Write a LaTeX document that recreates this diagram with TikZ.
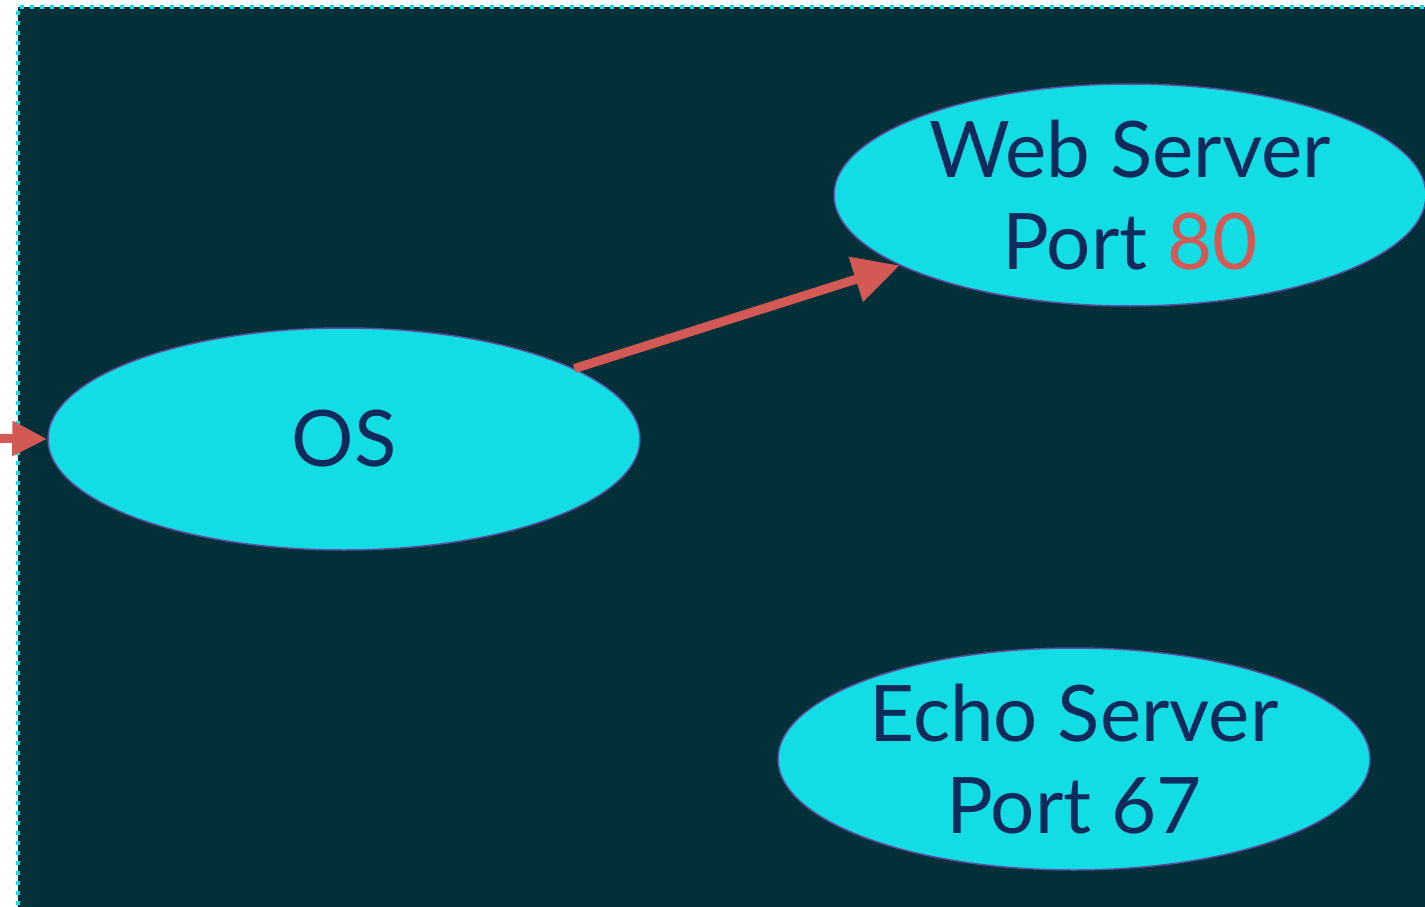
\documentclass[tikz,border=0pt]{standalone}
\usepackage{fontspec}
\setmainfont{Lato}
\usetikzlibrary{arrows.meta,shapes.geometric}
\definecolor{bgdark}{HTML}{013038}
\definecolor{ellfill}{HTML}{12DDE4}
\definecolor{ellline}{HTML}{5A4FA0}
\definecolor{txtnavy}{HTML}{112A5C}
\definecolor{arrred}{HTML}{D35A54}
\definecolor{dotcyan}{HTML}{12DDE4}
\begin{document}
\begin{tikzpicture}[x=1pt,y=-1pt,
  ellnode/.style={ellipse,draw=ellline,line width=1.5pt,fill=ellfill,
    minimum width=592pt,minimum height=222pt,inner sep=0pt,
    text=txtnavy,align=center,font=\fontsize{78}{92}\selectfont},
  redarrow/.style={draw=arrred,line width=9pt}]
\useasboundingbox (0,0) rectangle (1425,907);
\fill[white] (0,0) rectangle (1425,907);
\fill[bgdark] (17.5,7.5) rectangle (1440,920);
\draw[dotcyan,line width=4pt,dash pattern=on 4pt off 6pt] (17.5,915) -- (17.5,7.5) -- (1440,7.5);
\node[ellnode] (os) at (344,439) {OS};
\node[ellnode] (web) at (1130,195) {Web Server\\Port \textcolor{arrred}{80}};
\node[ellnode] (echo) at (1074,759) {Echo Server\\Port 67};
\coordinate (in) at (-20,438);
\draw[redarrow,-{Triangle[length=35pt,width=33pt]}] (in) -- (os.west);
\draw[redarrow,-{Triangle[length=46pt,width=45pt]}] (os.17) -- (web.197);
\end{tikzpicture}
\end{document}
